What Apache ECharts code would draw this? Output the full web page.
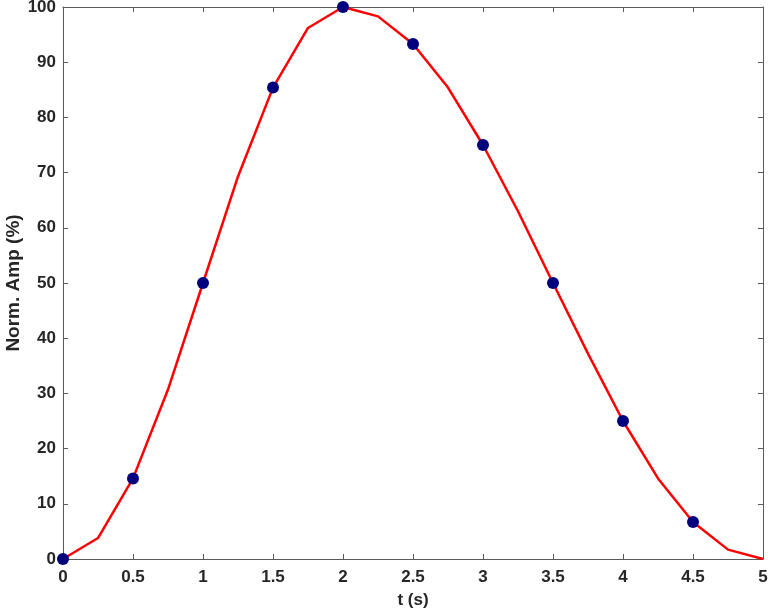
<!DOCTYPE html>
<html><head><meta charset="utf-8">
<script src="https://cdn.jsdelivr.net/npm/echarts@6/dist/echarts.min.js"></script>
<style>html,body{margin:0;padding:0;background:#fff}#c{width:768px;height:616px}</style>
</head><body><div id="c"></div>
<script>
const tLine = [0,0.25,0.5,0.75,1,1.25,1.5,1.75,2,2.25,2.5,2.75,3,3.25,3.5,3.75,4,4.25,4.5,4.75,5];
const ampLine = [0,3.8,14.6,30.7,50,69.3,85.4,96.2,100,98.3,93.3,85.4,75,63,50,37.2,25,14.6,6.7,1.7,0];
const tMarker = [0,0.5,1,1.5,2,2.5,3,3.5,4,4.5];
const ampMarker = [0,14.6,50,85.4,100,93.3,75,50,25,6.7];
const xTicks = [0,0.5,1,1.5,2,2.5,3,3.5,4,4.5,5];
const yTicks = [0,10,20,30,40,50,60,70,80,90,100];

const axisCol = '#5a5a5a';
const txtCol = '#262626';
const font = 'Liberation Sans, Arial, sans-serif';
const chart = echarts.init(document.getElementById('c'));
const mkX = (pos, labels) => ({
  type:'value', position:pos, min:xTicks[0], max:xTicks[xTicks.length-1], interval:0.5,
  axisLine:{show:true, onZero:false, lineStyle:{color:axisCol, width:1}},
  axisTick:{show:true, inside:true, length:5, lineStyle:{color:axisCol}},
  axisLabel:{show:labels, color:txtCol, fontFamily:font, fontWeight:'bold', fontSize:17, margin:10},
  splitLine:{show:false},
  name: labels ? 't (s)' : '', nameLocation:'middle', nameGap:33, nameMoveOverlap:false,
  nameTextStyle:{color:txtCol, fontFamily:font, fontWeight:'bold', fontSize:17}
});
const mkY = (pos, labels) => ({
  type:'value', position:pos, min:yTicks[0], max:yTicks[yTicks.length-1], interval:10,
  axisLine:{show:true, onZero:false, lineStyle:{color:axisCol, width:1}},
  axisTick:{show:true, inside:true, length:5, lineStyle:{color:axisCol}},
  axisLabel:{show:labels, color:txtCol, fontFamily:font, fontWeight:'bold', fontSize:17, margin:7},
  splitLine:{show:false},
  name: labels ? 'Norm. Amp (%)' : '', nameLocation:'middle', nameGap:40, nameMoveOverlap:false,
  nameTextStyle:{color:txtCol, fontFamily:font, fontWeight:'bold', fontSize:19}
});
chart.setOption({
  animation:false,
  backgroundColor:'#fff',
  grid:{left:63, top:7, right:5, bottom:57, containLabel:false, outerBoundsMode:'none'},
  xAxis:[mkX('bottom', true), mkX('top', false)],
  yAxis:[mkY('left', true), mkY('right', false)],
  series:[
    {type:'line', data:tLine.map((t,i)=>[t, ampLine[i]]), showSymbol:false, symbol:'none',
     lineStyle:{color:'#ff0000', width:2.5}, z:2},
    {type:'scatter', data:tMarker.map((t,i)=>[t, ampMarker[i]]), symbol:'circle', symbolSize:12,
     itemStyle:{color:'#00007f', opacity:1}, z:3}
  ]
});
</script></body></html>
